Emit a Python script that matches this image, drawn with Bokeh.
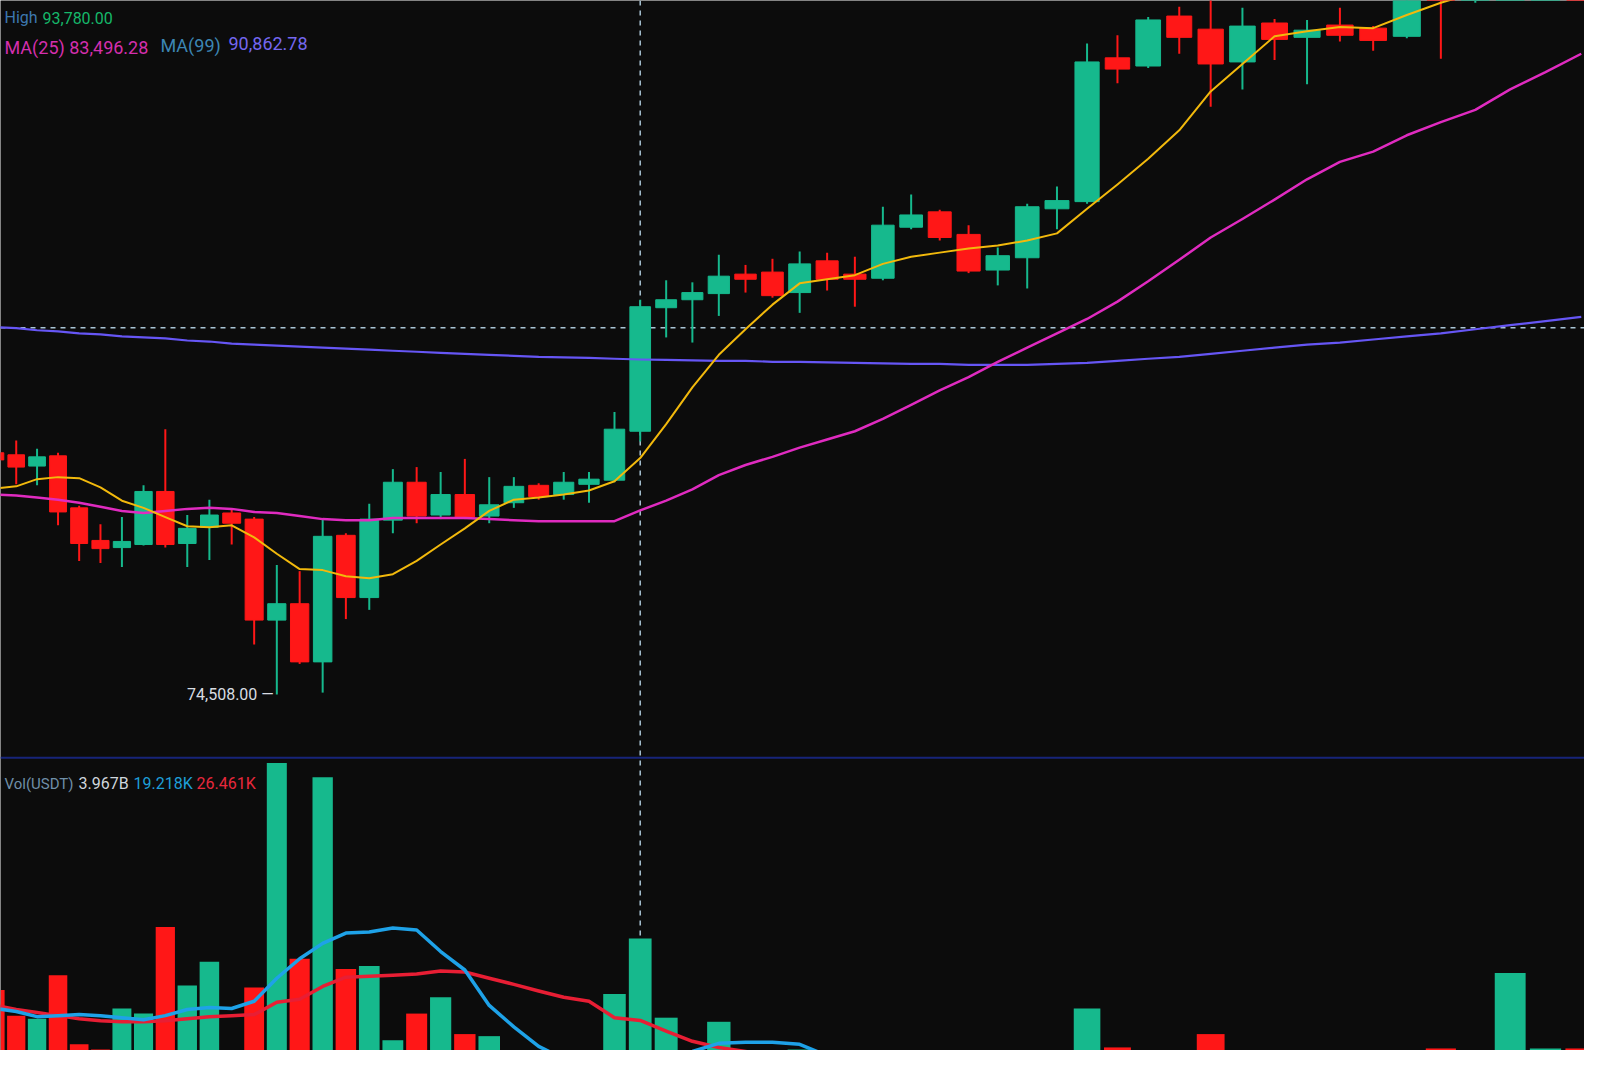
from bokeh.plotting import figure
from bokeh.models import Range1d, Span, Label, ColumnDataSource
from bokeh.embed import file_html
from bokeh.resources import INLINE

# ---------------- data (BTC/USDT candles) ----------------
open_ = [86310, 86210, 85660, 86160, 83620, 82030, 81680, 81830, 84420, 81880,
         82670, 83370, 83070, 78140, 78940, 76100, 82280, 79240, 83020, 84870,
         83270, 84270, 83220, 83870, 84720, 84270, 84770, 84970, 87360, 93390,
         93780, 94080, 95030, 95130, 94130, 95680, 95030, 94830, 97320, 98070,
         96970, 95230, 95830, 98220, 98570, 105590, 105190, 107630, 106990, 105390,
         107290, 106590, 107190, 107040, 106640, 111270, 109030, 111700, 112900, 113600]
close = [85960, 85610, 86110, 83420, 81880, 81630, 81980, 84420, 81830, 82620,
         83270, 82870, 78140, 78940, 76100, 82230, 79240, 83070, 84870, 83220,
         84270, 83170, 83770, 84670, 84170, 84870, 85020, 87460, 93440, 93780,
         94130, 94930, 94780, 93980, 95530, 94780, 94780, 97420, 97920, 96820,
         95180, 95930, 98320, 98620, 105390, 105040, 107440, 106590, 105290, 107140,
         106490, 106940, 106690, 106440, 109780, 109280, 111770, 112900, 113600, 112800]
high = [87010, 86910, 86510, 86310, 83720, 82820, 83170, 84720, 87460, 83270,
        84020, 83520, 83170, 80830, 80530, 83070, 82380, 83820, 85510, 85610,
        85370, 86010, 85120, 85120, 84820, 85370, 85370, 88300, 93780, 94730,
        94630, 95980, 95480, 95780, 96130, 96080, 95880, 98320, 98920, 98170,
        97420, 96330, 98470, 99310, 106290, 106690, 107580, 108080, 109030, 108030,
        107490, 107440, 108030, 107140, 110770, 111770, 112270, 113500, 114100, 114300]
low = [85170, 84770, 84720, 82770, 81030, 80930, 80730, 81780, 81680, 80730,
       81080, 81830, 76950, 74508, 76000, 74600, 78190, 78640, 82380, 82870,
       83070, 83070, 82870, 83620, 84020, 84020, 83870, 84870, 86860, 91940,
       91690, 92990, 94130, 93880, 93140, 94230, 93440, 94730, 97220, 96670,
       95080, 94480, 94330, 97220, 98470, 104350, 105090, 105790, 103200, 104050,
       105490, 104300, 106390, 105940, 106540, 105540, 108280, 111300, 112500, 112400]
ma7 = [84570, 84670, 85020, 85120, 85070, 84620, 83970, 83620, 83170, 82720,
       82670, 82770, 82180, 81380, 80630, 80580, 80280, 80180, 80380, 81030,
       81830, 82620, 83470, 84020, 84120, 84270, 84470, 84920, 86050, 87710,
       89500, 91090, 92340, 93540, 94580, 94780, 94980, 95530, 95880, 96080,
       96280, 96430, 96670, 97020, 98220, 99410, 100660, 102050, 103950, 105290,
       106640, 106890, 107090, 107040, 107680, 108280, 108780, 109380, 110030, 110520]
ma25 = [84270, 84220, 84120, 84020, 83870, 83670, 83470, 83370, 83470, 83570,
        83620, 83570, 83420, 83370, 83220, 83070, 83020, 83020, 83120, 83120,
        83120, 83120, 83070, 83020, 82970, 82970, 82970, 82970, 83496.28, 83970,
        84520, 85220, 85710, 86110, 86560, 86960, 87360, 87960, 88650, 89350,
        90000, 90750, 91440, 92140, 92840, 93690, 94680, 95730, 96820, 97720,
        98670, 99660, 100510, 101010, 101810, 102450, 103050, 104050, 104890, 105790]
ma99 = [92440, 92390, 92290, 92240, 92140, 92090, 91990, 91940, 91890, 91790,
        91740, 91640, 91590, 91540, 91490, 91440, 91390, 91340, 91290, 91240,
        91190, 91140, 91090, 91040, 90990, 90970, 90940, 90900, 90862.78, 90840,
        90820, 90800, 90800, 90750, 90750, 90720, 90700, 90670, 90650, 90650,
        90600, 90600, 90600, 90650, 90700, 90800, 90900, 90990, 91140, 91290,
        91440, 91590, 91690, 91840, 91990, 92140, 92340, 92540, 92740, 92940]
volume = [32400, 27400, 26800, 35300, 21800, 20800, 28800, 27800, 44700, 33300,
          37900, 16000, 32900, 76700, 38500, 73900, 36500, 37100, 22600, 27800,
          31000, 23800, 23400, 17000, 15600, 16400, 18000, 31600, 42460, 27000,
          18000, 26200, 17000, 16400, 20800, 16500, 15800, 18900, 15200, 16800,
          17600, 15500, 18400, 14900, 28800, 21200, 18000, 16900, 23800, 18500,
          16200, 15600, 14800, 14200, 18000, 21000, 18800, 35700, 21000, 21000]
vol_ma5 = [28800, 28200, 27200, 27400, 27600, 27400, 27000, 26600, 27400, 28600,
           29000, 28800, 30200, 34700, 38500, 41500, 43500, 43700, 44500, 44100,
           39900, 36300, 29400, 25200, 21400, 19000, 17000, 17000, 19218, 20000,
           20400, 22000, 22200, 22200, 21800, 19600, 18000, 17500, 17200, 16900,
           16800, 16800, 16700, 16700, 19000, 19000, 19500, 19800, 19600, 19800,
           19500, 18200, 17800, 16600, 16500, 17000, 17000, 19500, 19900, 19900]
vol_ma10 = [29400, 28600, 28000, 27400, 26800, 26400, 26200, 26200, 26400, 26800,
            27200, 27400, 27600, 30000, 30600, 33100, 34900, 35100, 35300, 35500,
            36100, 35900, 34700, 33500, 32200, 31000, 30200, 27000, 26461, 24400,
            22400, 21200, 20400, 19600, 19000, 18600, 18200, 18000, 17800, 17500,
            17400, 17200, 17100, 17000, 18000, 18300, 18200, 18100, 18500, 18600,
            18600, 18500, 18300, 18000, 17600, 17300, 17800, 19300, 19500, 19300]
hover = 28              # candle under the cursor
cursor_price = 92410    # horizontal cursor line
pane_split = 71415      # border between price pane and volume pane

# ---------------- styling ----------------
BG = "#0c0c0c"
GREEN = "#16b98d"
RED = "#ff1717"
FONT = "Roboto"
W, H = 1584, 1050
# The photo is taken at an angle: later candles appear wider.  A reversed
# log-scaled time axis (origin - index) imitates that perspective.
ORIGIN = 138.0

idx = list(range(len(close)))
xs = [ORIGIN - i for i in idx]
colors = [GREEN if c >= o else RED for o, c in zip(open_, close)]
src = ColumnDataSource(dict(
    x=xs, open=open_, close=close, high=high, low=low,
    top=[max(o, c) for o, c in zip(open_, close)],
    bottom=[min(o, c) for o, c in zip(open_, close)],
    color=colors, volume=volume))

p = figure(width=W, height=H, output_backend="svg", toolbar_location=None,
           x_axis_type="log", x_axis_location=None, y_axis_location=None,
           x_range=Range1d(ORIGIN - 0.24, ORIGIN - 59.09),
           y_range=Range1d(57128, 108389),
           min_border=0, background_fill_color=BG, border_fill_color=BG,
           outline_line_color=None)
p.extra_y_ranges = {"vol": Range1d(20600, 225400)}
p.grid.visible = False

# cursor and pane border (below the marks)
p.add_layout(Span(location=xs[hover], dimension="height", line_color="#a9c4d4",
                  line_dash="5 5", line_width=1.5, level="underlay"))
p.add_layout(Span(location=cursor_price, dimension="width", line_color="#a9c4d4",
                  line_dash="5 5", line_width=1.5, level="underlay"))
p.add_layout(Span(location=pane_split, dimension="width", line_color="#17247a",
                  line_width=2, level="underlay"))

# volume pane
p.vbar(x="x", width=0.88, top="volume", bottom=0, y_range_name="vol",
       fill_color="color", line_color=None, source=src)
p.line(xs, vol_ma10, y_range_name="vol", line_color="#e81e34", line_width=3.5,
       line_join="round")
p.line(xs, vol_ma5, y_range_name="vol", line_color="#1ea2e8", line_width=3.5,
       line_join="round")

# candles
p.segment(x0="x", y0="low", x1="x", y1="high", line_color="color",
          line_width=2, source=src)
p.vbar(x="x", width=0.8, top="top", bottom="bottom", fill_color="color",
       line_color="color", source=src)

# moving averages
p.line(xs, ma99, line_color="#6656f5", line_width=2.2, line_join="round")
p.line(xs, ma25, line_color="#e02bc0", line_width=2.5, line_join="round")
p.line(xs, ma7, line_color="#f2b90c", line_width=2, line_join="round")


def lab(x, y, text, color, size="18px", align="left"):
    p.add_layout(Label(x=x, y=H - y, x_units="screen", y_units="screen",
                       text=text, text_color=color, text_font=FONT,
                       text_font_size=size, text_align=align,
                       text_baseline="alphabetic", level="overlay"))


# header rows (values of the hovered candle)
lab(4, 17, "High", "#3d78b0", size="16px")
lab(42, 17, f"{high[hover]:,.2f}", "#16b86a", size="16px")
lab(4, 47, f"MA(25) {ma25[hover]:,.2f}", "#d42fae")
lab(160, 45, "MA(99)", "#3c86b4")
lab(228, 43, f"{ma99[hover]:,.2f}", "#7467f0")

quote_vol = volume[hover] * close[hover] / 1e9
lab(4, 783, "Vol(USDT)", "#6f8fa8", size="15px")
lab(78, 783, f"{quote_vol:.3f}B", "#cfd6dc", size="16px")
lab(133, 783, f"{vol_ma5[hover] / 1000:.3f}K", "#1e9fd8", size="16px")
lab(196, 783, f"{vol_ma10[hover] / 1000:.3f}K", "#e8283c", size="16px")

# lowest price marker
imin = low.index(min(low))
p.add_layout(Label(x=xs[imin], y=low[imin], x_offset=-3, text=f"{low[imin]:,.2f} —",
                   text_color="#d8dde2", text_font=FONT, text_font_size="16px",
                   text_align="right", text_baseline="middle"))

open("out.html", "w").write(file_html(p, INLINE))
